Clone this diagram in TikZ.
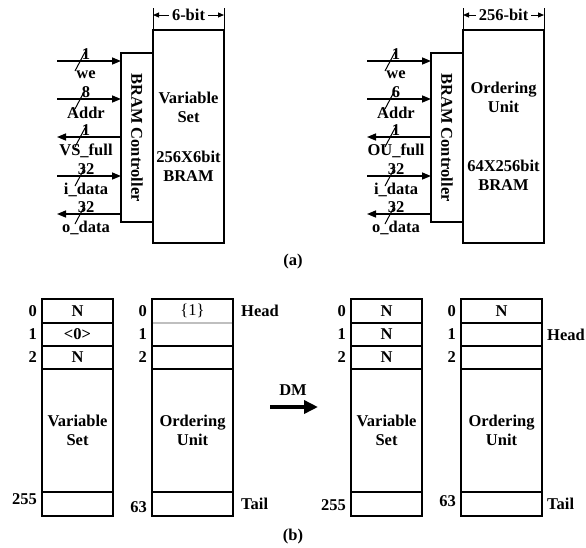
\documentclass[tikz,border=0pt]{standalone}
\usepackage{fontspec}
\setmainfont{Liberation Serif}
\usetikzlibrary{arrows.meta, positioning}

\tikzset{
  every node/.style={font=\fontsize{16.5}{19}\selectfont\bfseries, inner sep=1pt},
  box/.style={draw, line width=1.5pt, inner sep=0pt, outer sep=0pt},
  cell/.style={box, anchor=north west},
  vscell/.style={cell, minimum width=71pt},
  oucell/.style={cell, minimum width=81pt},
  sigin/.style={line width=1.5pt, -{Triangle[length=9pt,width=7pt]}},
  sigout/.style={line width=1.5pt, {Triangle[length=9pt,width=7pt]}-},
  busmark/.style={line width=1pt},
  dimline/.style={line width=1pt, {Triangle[length=6pt,width=5pt]}-{Triangle[length=6pt,width=5pt]}},
}

\begin{document}
\begin{tikzpicture}[x=1pt, y=-1pt]
  \useasboundingbox (0,0) rectangle (586,547);

  % (a) Variable Set with its controller
  \node[box, minimum width=71pt, minimum height=213pt, align=center] (vs) at (188.5,136.5)
    {Variable\\Set\\[21pt]256X6bit\\BRAM};
  \node[box, minimum width=32pt, minimum height=169pt] (vsc) at (137,137.5) {};
  \node[rotate=-90] (vsclab) at (vsc) {BRAM Controller};
  \draw[line width=0.8pt] (vs.north west) -- ++(0,-22);
  \draw[line width=0.8pt] (vs.north east) -- ++(0,-22);
  \draw[dimline] ([yshift=15pt]vs.north west) -- ([yshift=15pt]vs.north east);
  \node[fill=white, inner sep=3pt] (vsdim) at ([yshift=15pt]vs.north) {6-bit};
  \foreach \y/\w/\lab/\st [count=\i] in {61/1/we/sigin, 99/8/Addr/sigin, 137/1/VS\_full/sigout,
      176/32/i\_data/sigin, 214/32/o\_data/sigout}{
    \coordinate (vsp\i) at (57,\y);
    \draw[\st] (vsp\i) -- (vsp\i -| vsc.west);
    \draw[busmark] ([shift={(18,10)}]vsp\i) -- ([shift={(28,-9)}]vsp\i);
    \node (vsw\i) at ([shift={(29,-7)}]vsp\i) {\w};
    \node (vsn\i) at ([shift={(29,14)}]vsp\i) {\lab};
  }

  % (a) Ordering Unit with its controller
  \node[box, minimum width=81pt, minimum height=213pt, align=center] (ou) at (503.5,136.5)
    {Ordering\\Unit\\[40pt]64X256bit\\BRAM};
  \node[box, minimum width=32pt, minimum height=169pt] (ouc) at (447,137.5) {};
  \node[rotate=-90] (ouclab) at (ouc) {BRAM Controller};
  \draw[line width=0.8pt] (ou.north west) -- ++(0,-22);
  \draw[line width=0.8pt] (ou.north east) -- ++(0,-22);
  \draw[dimline] ([yshift=15pt]ou.north west) -- ([yshift=15pt]ou.north east);
  \node[fill=white, inner sep=3pt] (oudim) at ([yshift=15pt]ou.north) {256-bit};
  \foreach \y/\w/\lab/\st [count=\i] in {61/1/we/sigin, 99/6/Addr/sigin, 137/1/OU\_full/sigout,
      176/32/i\_data/sigin, 214/32/o\_data/sigout}{
    \coordinate (oup\i) at (367,\y);
    \draw[\st] (oup\i) -- (oup\i -| ouc.west);
    \draw[busmark] ([shift={(18,10)}]oup\i) -- ([shift={(28,-9)}]oup\i);
    \node (ouw\i) at ([shift={(29,-7)}]oup\i) {\w};
    \node (oun\i) at ([shift={(29,14)}]oup\i) {\lab};
  }

  \node (capa) at (293,262) {(a)};

  % (b) before DM
  \node[vscell, minimum height=24pt] (vsa0) at (42,299) {N};
  \node[vscell, minimum height=23pt, below=0pt of vsa0] (vsa1) {<0>};
  \node[vscell, minimum height=23pt, below=0pt of vsa1] (vsa2) {N};
  \node[vscell, minimum height=123pt, below=0pt of vsa2, align=center] (vsab) {Variable\\Set};
  \node[vscell, minimum height=24pt, below=0pt of vsab] (vsat) {};
  \node[left=4pt of vsa0] (vsai0) {0};
  \node[left=4pt of vsa1] (vsai1) {1};
  \node[left=4pt of vsa2] (vsai2) {2};
  \node[left=4pt of vsat, yshift=5pt] (vsait) {255};

  \node[oucell, minimum height=24pt] (oua0) at (152,299) {\mdseries\{1\}};
  \node[oucell, minimum height=23pt, below=0pt of oua0] (oua1) {};
  \node[oucell, minimum height=23pt, below=0pt of oua1] (oua2) {};
  \node[oucell, minimum height=123pt, below=0pt of oua2, align=center] (ouab) {Ordering\\Unit};
  \node[oucell, minimum height=24pt, below=0pt of ouab] (ouat) {};
  \draw[gray!50, line width=1.2pt] ([xshift=0.8pt]oua0.south west) -- ([xshift=-0.8pt]oua0.south east);
  \node[left=4pt of oua0] (ouai0) {0};
  \node[left=4pt of oua1] (ouai1) {1};
  \node[left=4pt of oua2] (ouai2) {2};
  \node[left=4pt of ouat, yshift=-3pt] (ouait) {63};
  \node[right=7pt of oua0] (ouahead) {Head};
  \node[right=7pt of ouat] (ouatail) {Tail};

  % DM step
  \coordinate (dmfrom) at (270,407);
  \coordinate (dmto) at (318,407);
  \draw[line width=3.5pt, -{Triangle[length=14pt,width=13pt]}] (dmfrom) -- (dmto);
  \node (dmlab) at (293,390) {DM};

  % (b) after DM
  \node[vscell, minimum height=24pt] (vsb0) at (351,299) {N};
  \node[vscell, minimum height=23pt, below=0pt of vsb0] (vsb1) {N};
  \node[vscell, minimum height=23pt, below=0pt of vsb1] (vsb2) {N};
  \node[vscell, minimum height=123pt, below=0pt of vsb2, align=center] (vsbb) {Variable\\Set};
  \node[vscell, minimum height=24pt, below=0pt of vsbb] (vsbt) {};
  \node[left=4pt of vsb0] (vsbi0) {0};
  \node[left=4pt of vsb1] (vsbi1) {1};
  \node[left=4pt of vsb2] (vsbi2) {2};
  \node[left=4pt of vsbt, yshift=-1pt] (vsbit) {255};

  \node[oucell, minimum height=24pt] (oub0) at (461,299) {N};
  \node[oucell, minimum height=23pt, below=0pt of oub0] (oub1) {};
  \node[oucell, minimum height=23pt, below=0pt of oub1] (oub2) {};
  \node[oucell, minimum height=123pt, below=0pt of oub2, align=center] (oubb) {Ordering\\Unit};
  \node[oucell, minimum height=24pt, below=0pt of oubb] (oubt) {};
  \node[left=4pt of oub0] (oubi0) {0};
  \node[left=4pt of oub1] (oubi1) {1};
  \node[left=4pt of oub2] (oubi2) {2};
  \node[left=4pt of oubt, yshift=3pt] (oubit) {63};
  \node[right=4pt of oub1] (oubhead) {Head};
  \node[right=4pt of oubt] (oubtail) {Tail};

  \node (capb) at (293,537) {(b)};
\end{tikzpicture}
\end{document}
